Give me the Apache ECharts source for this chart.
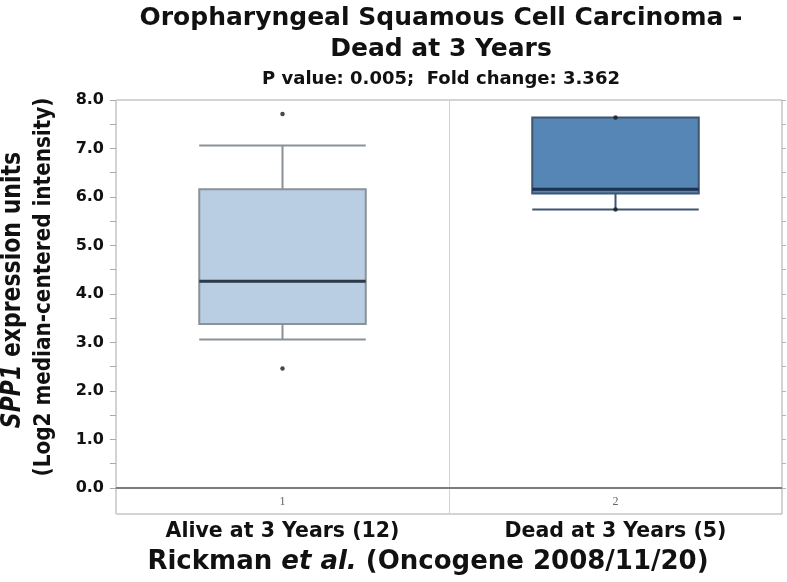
<!DOCTYPE html>
<html><head><meta charset="utf-8">
<script src="https://cdn.jsdelivr.net/npm/echarts@6.0.0/dist/echarts.min.js"></script>
<style>html,body{margin:0;padding:0;background:#fff}#c{width:787px;height:582px}</style>
</head><body><div id="c"></div>
<script>
// ---- data ----
const categories = ['Alive at 3 Years (12)', 'Dead at 3 Years (5)'];
const tickLabels = ['1', '2'];
// [lower whisker, Q1, median, Q3, upper whisker]
const boxAlive = [3.06, 3.38, 4.26, 6.16, 7.06];
const boxDead = [5.74, 6.07, 6.16, 7.64, 7.64];
const pointsAlive = [7.71, 2.46];
const pointsDead = [7.64, 5.74];
const yTickValues = [0, 0.5, 1, 1.5, 2, 2.5, 3, 3.5, 4, 4.5, 5, 5.5, 6, 6.5, 7, 7.5, 8];
const yLabelValues = [0, 1, 2, 3, 4, 5, 6, 7, 8];
const yMin = -0.54, yMax = 8;

// ---- styling ----
const FONT = 'DejaVu Sans';
const boxFill = ['#b9cde3', '#5586b6'];
const boxBorder = ['#8b9198', '#3f5673'];
const medianColor = ['#2c3a49', '#1b3150'];

const chart = echarts.init(document.getElementById('c'), null, {renderer: 'canvas'});

const boxes = [boxAlive, boxDead];
const boxData = boxes.map((b, i) => ({
  value: b,
  itemStyle: {color: boxFill[i], borderColor: boxBorder[i], borderWidth: 2}
}));
const medianData = boxes.map((b, i) => [i, b[2]]);
const pointData = [];
pointsAlive.forEach(v => pointData.push([0, v]));
pointsDead.forEach(v => pointData.push([1, v]));

chart.setOption({
  animation: false,
  grid: {left: 116, right: 5, top: 100, bottom: 68, show: true, borderColor: '#a9a9a9', borderWidth: 1},
  xAxis: [{
    type: 'category', data: tickLabels, position: 'bottom', boundaryGap: true,
    axisLine: {show: false}, axisTick: {show: false},
    axisLabel: {inside: true, margin: 6, fontSize: 12, color: '#666', fontFamily: 'Liberation Serif'},
    splitLine: {show: true, lineStyle: {color: '#d2d2d2', width: 1}}
  }, {
    type: 'category', data: categories, position: 'bottom', boundaryGap: true,
    axisLine: {show: false}, axisTick: {show: false}, splitLine: {show: false},
    axisLabel: {margin: 7, fontSize: 20.5, fontWeight: 'bold', color: '#111', fontFamily: FONT}
  }],
  yAxis: [{
    type: 'value', min: yMin, max: yMax, position: 'left',
    axisLine: {show: false}, splitLine: {show: false},
    axisTick: {show: true, inside: false, length: 6, customValues: yTickValues, lineStyle: {color: '#a9a9a9', width: 1}},
    axisLabel: {customValues: yLabelValues, formatter: v => Number(v).toFixed(1), margin: 12, fontSize: 16, fontWeight: 'bold', color: '#111', fontFamily: FONT}
  }, {
    type: 'value', min: yMin, max: yMax, position: 'right',
    axisLine: {show: false}, splitLine: {show: false},
    axisTick: {show: true, inside: false, length: 4, customValues: yTickValues, lineStyle: {color: '#b5b5b5', width: 1}},
    axisLabel: {show: false}
  }],
  series: [{
    type: 'boxplot', xAxisIndex: 0, yAxisIndex: 0,
    boxWidth: ['50%', '50%'],
    data: boxData
  }, {
    type: 'custom', xAxisIndex: 0, yAxisIndex: 0,
    data: medianData,
    renderItem: function (params, api) {
      const p = api.coord([api.value(0), api.value(1)]);
      const half = api.size([1, 0])[0] * 0.25;
      return {
        type: 'line',
        shape: {x1: p[0] - half, y1: p[1], x2: p[0] + half, y2: p[1]},
        style: {stroke: medianColor[params.dataIndex], lineWidth: 3}
      };
    },
    z: 5
  }, {
    type: 'scatter', xAxisIndex: 0, yAxisIndex: 0,
    data: pointData, symbol: 'circle', symbolSize: 4.5,
    itemStyle: {color: '#1a1a1a'}, z: 6,
    markLine: {
      silent: true, symbol: ['none', 'none'], label: {show: false},
      lineStyle: {color: '#7c7c7c', width: 2, type: 'solid'},
      data: [{yAxis: 0}]
    }
  }],
  graphic: [
    {type: 'text', x: 441, y: 18, style: {text: 'Oropharyngeal Squamous Cell Carcinoma -', font: 'bold 25px "DejaVu Sans"', fill: '#111', textAlign: 'center', textVerticalAlign: 'middle'}},
    {type: 'text', x: 441, y: 49, style: {text: 'Dead at 3 Years', font: 'bold 25px "DejaVu Sans"', fill: '#111', textAlign: 'center', textVerticalAlign: 'middle'}},
    {type: 'text', x: 441, y: 79, style: {text: 'P value: 0.005;  Fold change: 3.362', font: 'bold 18px "DejaVu Sans"', fill: '#111', textAlign: 'center', textVerticalAlign: 'middle'}},
    {type: 'text', x: 13, y: 290, rotation: Math.PI / 2, scaleY: 1.2,
     style: {text: '{i|SPP1}{n| expression units}', textAlign: 'center', textVerticalAlign: 'middle', fill: '#111',
       rich: {i: {fontFamily: FONT, fontSize: 22, fontWeight: 'bold', fontStyle: 'italic', fill: '#111'},
              n: {fontFamily: FONT, fontSize: 22, fontWeight: 'bold', fill: '#111'}}}},
    {type: 'text', x: 44, y: 287, rotation: Math.PI / 2, scaleY: 1.15,
     style: {text: '(Log2 median-centered intensity)', font: 'bold 20px "DejaVu Sans"', fill: '#111', textAlign: 'center', textVerticalAlign: 'middle'}},
    {type: 'text', x: 428, y: 562,
     style: {text: '{n|Rickman }{i|et al.}{n| (Oncogene 2008/11/20)}', textAlign: 'center', textVerticalAlign: 'middle', fill: '#111',
       rich: {i: {fontFamily: FONT, fontSize: 26, fontWeight: 'bold', fontStyle: 'italic', fill: '#111'},
              n: {fontFamily: FONT, fontSize: 26, fontWeight: 'bold', fill: '#111'}}}}
  ]
});
</script></body></html>
